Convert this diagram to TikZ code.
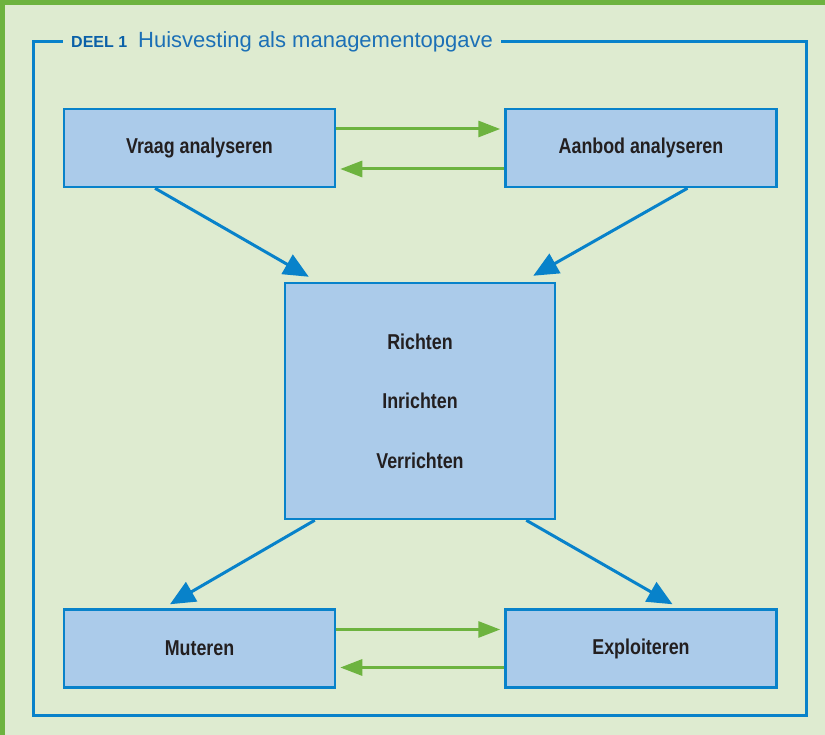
\documentclass[tikz,border=0pt]{standalone}
\usepackage{fontspec}
\setmainfont{Liberation Sans}
\newfontfamily\boxfont[FakeStretch=0.83]{Liberation Sans}
\usetikzlibrary{positioning,arrows.meta,calc}
\definecolor{frameblue}{RGB}{8,130,202}
\definecolor{titleblue}{RGB}{28,112,182}
\definecolor{deelblue}{RGB}{10,96,168}
\definecolor{boxfill}{RGB}{171,203,234}
\definecolor{bggreen}{RGB}{222,235,208}
\definecolor{edgegreen}{RGB}{109,179,63}
\definecolor{boxtext}{RGB}{35,31,32}

\begin{document}
\begin{tikzpicture}[x=1pt,y=-1pt,
  bx/.style={draw=frameblue,line width=2.5pt,fill=boxfill,text=boxtext,align=center,
    minimum width=271pt,minimum height=78pt,font=\boxfont\bfseries\fontsize{21.5}{59.5}\selectfont},
  gar/.style={-{Triangle[length=22pt,width=16pt]},draw=edgegreen,fill=edgegreen,line width=3pt,shorten >=4pt},
  bar/.style={-{Triangle[length=25pt,width=22pt]},draw=frameblue,fill=frameblue,line width=3pt}]
  \useasboundingbox (0,0) rectangle (825,735);
  \fill[edgegreen] (0,0) rectangle (825,735);
  \fill[bggreen] (5,5) rectangle (825,735);
  \draw[frameblue,line width=3pt] (33.5,42) rectangle (806.5,715.5);
  \node[anchor=base west,fill=bggreen,inner xsep=8pt,inner ysep=3pt,text=titleblue] (title) at (63,48)
    {{\color{deelblue}\fontsize{16}{16}\selectfont\bfseries DEEL 1}\hspace{11pt}\fontsize{22}{22}\selectfont Huisvesting als managementopgave};

  \node[bx] (vraag) at (199.5,148) {Vraag analyseren};
  \node[bx,right=168pt of vraag] (aanbod) {Aanbod analyseren};
  \node[bx,minimum width=270pt,minimum height=236pt] (mid) at (420,401) {Richten\\ Inrichten\\ Verrichten};
  \node[bx,below=420pt of vraag] (muteren) {Muteren};
  \node[bx,right=168pt of muteren] (exploit) {Exploiteren};

  \draw[gar] ([yshift=19pt]vraag.east) -- ([yshift=19pt]vraag.east -| aanbod.west);
  \draw[gar] ([yshift=-21pt]aanbod.west) -- ([yshift=-21pt]aanbod.west -| vraag.east);
  \draw[gar] ([yshift=19pt]muteren.east) -- ([yshift=19pt]muteren.east -| exploit.west);
  \draw[gar] ([yshift=-19pt]exploit.west) -- ([yshift=-19pt]exploit.west -| muteren.east);

  \draw[bar] ([xshift=-44.5pt]vraag.south) -- ([xshift=25pt,yshift=5pt]mid.north west);
  \draw[bar] ([xshift=46.5pt]aanbod.south) -- ([xshift=-23pt,yshift=6pt]mid.north east);
  \draw[bar] ([xshift=31pt]mid.south west) -- ([xshift=-29.5pt,yshift=4pt]muteren.north);
  \draw[bar] ([xshift=-30pt]mid.south east) -- ([xshift=31.5pt,yshift=4pt]exploit.north);
\end{tikzpicture}
\end{document}
